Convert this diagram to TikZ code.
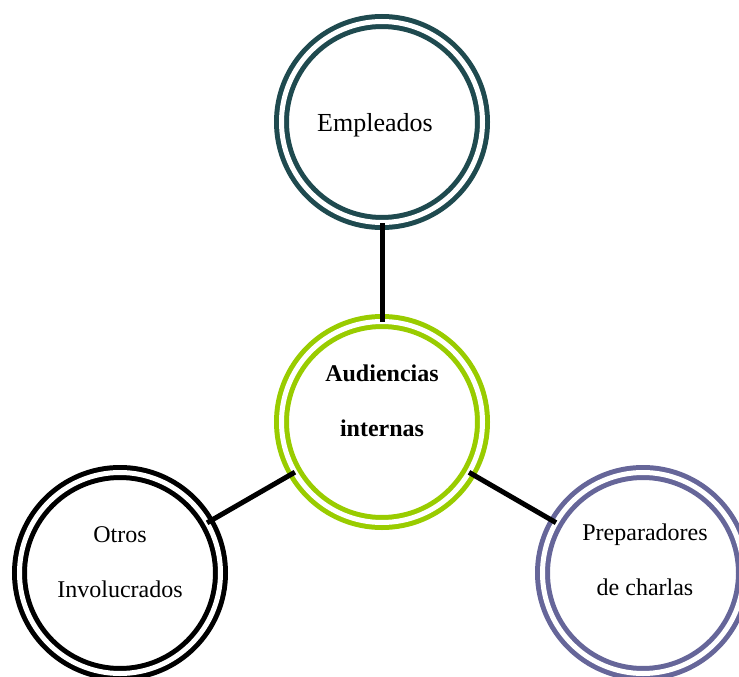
\documentclass[tikz,border=0pt]{standalone}
\usepackage{fontspec}
\setmainfont{Liberation Serif}
\usetikzlibrary{positioning}
\definecolor{tealdark}{HTML}{1F4A4F}
\definecolor{limegreen}{HTML}{99CC00}
\definecolor{slatepurple}{HTML}{666699}
\tikzset{
  ring/.style={circle, draw=#1, double=white, double distance=5pt,
               line width=5pt, minimum size=201pt, inner sep=0pt, outer sep=0pt},
  txt/.style={align=center, font=\fontsize{24}{55}\selectfont},
  link/.style={line width=5pt, black}
}

\begin{document}
\begin{tikzpicture}[node distance=300pt, on grid]
  \useasboundingbox (0,0) rectangle (739pt,-677pt);
  \node[ring=limegreen,
        label={[txt, font=\fontsize{24}{55}\selectfont\bfseries, yshift=21pt]center:Audiencias\\internas}]
        (aud) at (382pt,-422pt) {};
  \node[ring=tealdark, above=of aud,
        label={[font=\fontsize{26}{30}\selectfont, xshift=-7pt, yshift=-3pt]center:Empleados}] (emp) {};
  \node[ring=black, below left=151pt and 262pt of aud,
        label={[txt, yshift=11pt]center:Otros\\Involucrados}] (otros) {};
  \node[ring=slatepurple, below right=151pt and 261pt of aud,
        label={[txt, xshift=2pt, yshift=13pt]center:Preparadores\\de charlas}] (prep) {};

  \draw[link] (aud)--(emp);
  \draw[link] (aud)--(otros);
  \draw[link] (aud)--(prep);
\end{tikzpicture}
\end{document}
